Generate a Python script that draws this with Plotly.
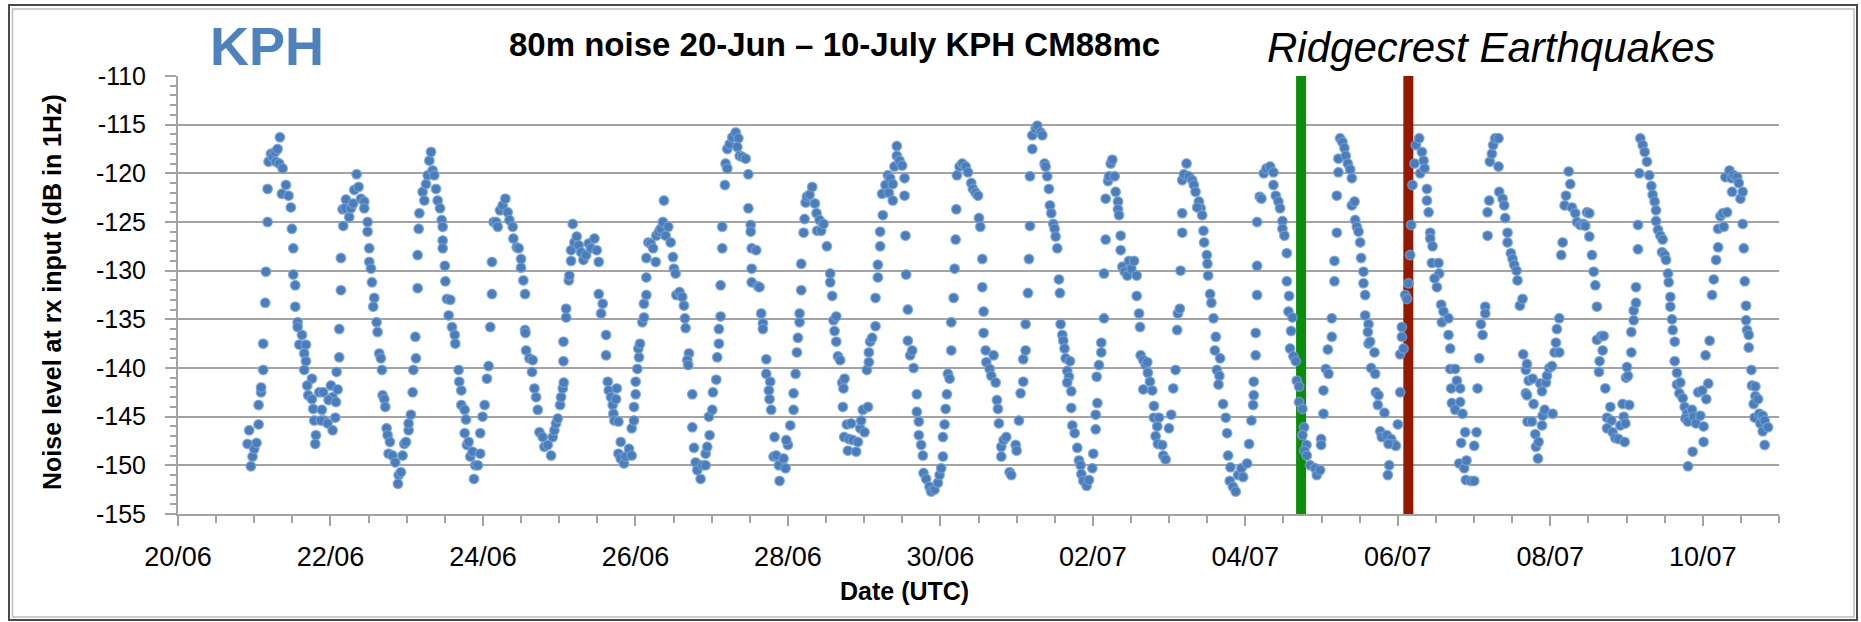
import pandas as pd
import plotly.graph_objects as go

START = pd.Timestamp("2019-06-20 00:00")

# 80 m noise readings: (days after 20-Jun 00:00 UTC, level in dB / 1 Hz)
noise_21_24jun = [
    (0.956, -150.1), (0.934, -146.4), (0.912, -147.8), (0.978, -149.1), (1.000, -148.3), (1.030, -147.7),
    (1.057, -145.8), (1.057, -143.8), (1.090, -142.5), (1.090, -142.0), (1.118, -140.2), (1.118, -137.5),
    (1.144, -133.3), (1.153, -130.1), (1.175, -125.0), (1.175, -121.6), (1.188, -118.8), (1.219, -118.0),
    (1.240, -118.3), (1.275, -117.8), (1.306, -117.5), (1.337, -116.3), (1.284, -118.8), (1.328, -119.0),
    (1.372, -119.5), (1.363, -122.1), (1.416, -121.2), (1.450, -122.3), (1.480, -123.5), (1.494, -125.7),
    (1.512, -127.7), (1.512, -130.4), (1.538, -131.5), (1.538, -133.7), (1.569, -135.3), (1.569, -135.8),
    (1.626, -136.6), (1.591, -137.6), (1.678, -137.6), (1.656, -138.5), (1.678, -139.3), (1.656, -140.2),
    (1.757, -141.1), (1.695, -141.8), (1.708, -142.8), (1.757, -143.2), (1.774, -144.2), (1.787, -145.4),
    (1.809, -146.9), (1.800, -147.8), (1.853, -142.5), (1.905, -142.5), (1.888, -144.3), (1.918, -145.4),
    (1.875, -145.4), (1.962, -145.7), (2.006, -141.8), (2.028, -143.0), (1.975, -143.3), (2.028, -146.4),
    (2.063, -145.1), (2.072, -143.5), (2.094, -142.2), (2.080, -140.4), (2.115, -138.9), (2.115, -136.0),
    (2.137, -132.0), (2.137, -128.7), (2.168, -125.4), (2.159, -123.7), (2.203, -122.7), (2.194, -123.6),
    (2.246, -124.5), (2.268, -123.6), (2.299, -123.1), (2.312, -121.7), (2.343, -120.1), (2.369, -121.4),
    (2.400, -122.6), (2.443, -122.9), (2.443, -123.6), (2.487, -125.0), (2.487, -126.0), (2.509, -127.7),
    (2.509, -129.1), (2.531, -129.8), (2.544, -131.2), (2.574, -132.8), (2.561, -133.7), (2.605, -135.3),
    (2.618, -136.3), (2.640, -138.5), (2.661, -139.0), (2.675, -140.2), (2.684, -142.8), (2.706, -143.2),
    (2.719, -144.0), (2.736, -146.2), (2.749, -146.9), (2.780, -147.6), (2.762, -148.8), (2.814, -149.0),
    (2.850, -149.7), (2.894, -151.0), (2.885, -151.9), (2.924, -150.7), (2.946, -149.0), (2.968, -147.8),
    (2.990, -147.6), (3.025, -146.4), (3.025, -145.7), (3.055, -144.8), (3.078, -142.5), (3.087, -140.2),
    (3.121, -139.0), (3.113, -136.8), (3.143, -131.8), (3.143, -128.4), (3.157, -125.7), (3.166, -124.1),
    (3.209, -121.9), (3.231, -122.8), (3.253, -121.1), (3.275, -120.2), (3.297, -118.7), (3.319, -117.8),
    (3.340, -119.7), (3.362, -120.2), (3.384, -121.6), (3.406, -122.8), (3.437, -123.6), (3.459, -124.8),
    (3.472, -125.5), (3.472, -126.9), (3.472, -127.7), (3.500, -129.5), (3.507, -131.1), (3.528, -132.9),
    (3.572, -133.0), (3.550, -134.6), (3.594, -135.8), (3.629, -136.6), (3.637, -137.5), (3.681, -140.2),
    (3.689, -141.4), (3.716, -142.3), (3.716, -143.8), (3.760, -144.3), (3.777, -145.3), (3.760, -146.7),
    (3.790, -147.9), (3.812, -147.6), (3.834, -149.1), (3.864, -148.6), (3.899, -150.0), (3.882, -151.4),
    (3.934, -150.0), (3.964, -148.8), (3.964, -146.7), (3.995, -145.0), (4.022, -143.8), (4.052, -141.1),
    (4.074, -139.8), (4.096, -135.8), (4.118, -132.4), (4.118, -129.1), (4.140, -125.0),
]

noise_24_28jun = [
    (4.172, -125.0), (4.194, -125.5), (4.224, -123.8), (4.259, -123.3), (4.294, -122.6), (4.325, -124.0),
    (4.347, -124.8), (4.390, -125.5), (4.399, -126.7), (4.443, -127.6), (4.469, -127.7), (4.500, -128.8),
    (4.500, -129.7), (4.530, -131.0), (4.552, -132.4), (4.552, -136.1), (4.557, -136.4), (4.566, -138.2),
    (4.609, -139.0), (4.653, -139.2), (4.644, -140.4), (4.675, -142.1), (4.697, -143.0), (4.719, -144.3),
    (4.741, -146.6), (4.784, -147.1), (4.806, -148.1), (4.850, -147.9), (4.894, -149.0), (4.915, -147.1),
    (4.937, -146.4), (4.959, -145.7), (4.981, -145.2), (5.012, -143.8), (5.025, -143.0), (5.047, -142.1),
    (5.060, -141.5), (5.056, -139.3), (5.056, -137.3), (5.091, -134.8), (5.091, -133.9), (5.126, -131.0),
    (5.134, -130.5), (5.156, -129.0), (5.156, -127.9), (5.178, -125.2), (5.200, -127.1), (5.230, -126.5),
    (5.257, -127.4), (5.287, -128.1), (5.318, -128.9), (5.353, -128.4), (5.388, -127.2), (5.418, -127.7),
    (5.462, -126.7), (5.493, -127.9), (5.519, -129.1), (5.519, -132.4), (5.571, -133.4), (5.550, -134.4),
    (5.615, -136.6), (5.615, -138.7), (5.637, -141.4), (5.650, -142.3), (5.680, -143.0), (5.702, -143.8),
    (5.755, -142.1), (5.746, -143.2), (5.711, -144.7), (5.724, -145.4), (5.777, -145.5), (5.807, -147.6),
    (5.777, -148.8), (5.807, -149.3), (5.850, -149.8), (5.872, -149.1), (5.916, -148.3), (5.951, -149.0),
    (5.951, -146.2), (5.981, -145.4), (5.981, -144.0), (6.003, -142.7), (6.003, -141.4), (6.025, -140.1),
    (6.047, -138.9), (6.038, -138.0), (6.060, -137.5), (6.090, -135.3), (6.112, -134.8), (6.112, -133.4),
    (6.143, -132.5), (6.143, -130.7), (6.143, -128.7), (6.169, -127.1), (6.200, -127.2), (6.231, -127.7),
    (6.266, -129.1), (6.274, -126.4), (6.309, -126.0), (6.331, -125.7), (6.361, -125.0), (6.374, -122.8),
    (6.396, -126.4), (6.431, -125.5), (6.462, -127.1), (6.492, -128.6), (6.505, -129.8), (6.527, -130.3),
    (6.536, -132.5), (6.579, -132.2), (6.614, -132.7), (6.636, -133.6), (6.649, -134.9), (6.658, -135.9),
    (6.702, -138.5), (6.680, -139.2), (6.693, -139.7), (6.746, -142.7), (6.746, -146.1), (6.768, -148.2),
    (6.790, -149.7), (6.811, -150.5), (6.855, -151.4), (6.877, -150.0), (6.921, -150.0), (6.921, -148.8),
    (6.942, -148.1), (6.973, -146.9), (6.964, -145.0), (7.008, -144.3), (7.017, -142.5), (7.060, -141.2),
    (7.073, -138.9), (7.095, -137.5), (7.095, -136.0), (7.117, -134.7), (7.117, -131.5), (7.139, -127.7),
    (7.139, -125.5), (7.174, -121.2), (7.183, -119.0), (7.205, -119.5), (7.205, -117.5), (7.236, -117.0),
    (7.271, -116.3), (7.315, -115.8), (7.350, -116.4), (7.337, -117.3), (7.367, -118.2), (7.402, -118.3),
    (7.446, -118.5), (7.481, -120.1), (7.481, -123.6), (7.512, -125.3), (7.512, -126.0), (7.525, -127.7),
    (7.525, -129.8), (7.525, -131.2),
]

noise_28jun_01jul = [
    (7.584, -127.9), (7.606, -131.6), (7.628, -131.7), (7.650, -134.4), (7.672, -135.4), (7.672, -136.0),
    (7.716, -139.1), (7.716, -140.6), (7.768, -141.4), (7.751, -142.3), (7.759, -143.2), (7.781, -144.3),
    (7.825, -147.1), (7.812, -149.1), (7.847, -149.0), (7.881, -150.0), (7.891, -151.6), (7.943, -149.3),
    (7.969, -150.3), (8.000, -147.9), (7.978, -147.4), (8.031, -145.9), (8.074, -144.3), (8.074, -142.6),
    (8.101, -140.6), (8.118, -138.4), (8.131, -136.9), (8.153, -135.3), (8.153, -134.4), (8.175, -132.0),
    (8.175, -129.3), (8.206, -126.1), (8.219, -124.7), (8.232, -123.0), (8.249, -122.4), (8.284, -122.2),
    (8.319, -121.4), (8.354, -123.1), (8.376, -124.1), (8.384, -125.9), (8.415, -124.8), (8.437, -125.9),
    (8.468, -125.2), (8.511, -127.5), (8.555, -130.3), (8.555, -131.2), (8.581, -132.6), (8.599, -135.1),
    (8.634, -134.7), (8.612, -136.2), (8.634, -137.3), (8.656, -138.8), (8.686, -139.2), (8.712, -141.5),
    (8.729, -142.1), (8.743, -141.1), (8.721, -144.0), (8.773, -145.8), (8.830, -145.7), (8.738, -147.1),
    (8.803, -147.3), (8.787, -148.5), (8.852, -147.4), (8.895, -148.6), (8.918, -147.6), (8.949, -146.2),
    (9.005, -146.6), (8.961, -145.4), (8.983, -144.3), (9.050, -144.0), (9.036, -140.2), (9.062, -139.4),
    (9.062, -138.4), (9.079, -137.3), (9.105, -136.9), (9.149, -135.7), (9.149, -132.8), (9.180, -130.7),
    (9.180, -129.4), (9.210, -127.5), (9.210, -126.0), (9.245, -124.3), (9.236, -122.1), (9.280, -121.2),
    (9.311, -120.2), (9.341, -120.5), (9.324, -122.0), (9.376, -122.8), (9.376, -121.1), (9.398, -119.3),
    (9.429, -118.2), (9.429, -117.2), (9.464, -118.7), (9.499, -119.2), (9.530, -120.5), (9.530, -122.3),
    (9.542, -126.4), (9.551, -130.4), (9.573, -134.0), (9.573, -137.2), (9.604, -138.7), (9.630, -138.2),
    (9.648, -140.0), (9.691, -142.7), (9.691, -144.5), (9.717, -145.5), (9.717, -146.9), (9.748, -147.9),
    (9.770, -149.0), (9.779, -150.8), (9.813, -151.4), (9.857, -152.2), (9.879, -152.7), (9.923, -152.5),
    (9.967, -151.8), (9.989, -151.0), (10.011, -150.3), (10.033, -149.1), (10.033, -147.1), (10.055, -145.8),
    (10.069, -144.2), (10.086, -142.7), (10.099, -140.6), (10.121, -141.1), (10.143, -138.2), (10.143, -135.3),
    (10.174, -132.8), (10.187, -129.8), (10.200, -126.8), (10.209, -123.7), (10.217, -120.2), (10.252, -119.3),
    (10.287, -119.0), (10.331, -119.3), (10.362, -119.9), (10.405, -121.0), (10.427, -121.6), (10.462, -122.0),
    (10.493, -122.3), (10.506, -124.6), (10.524, -125.5), (10.550, -128.8), (10.550, -131.7), (10.567, -134.2),
    (10.567, -136.4), (10.594, -138.2), (10.602, -139.4), (10.646, -140.1), (10.668, -140.8), (10.698, -138.7),
    (10.725, -141.5), (10.742, -143.3), (10.755, -144.2), (10.768, -145.7), (10.799, -148.1), (10.799, -149.1),
    (10.829, -147.4), (10.864, -147.1), (10.908, -150.7), (10.930, -151.0),
]

noise_01_04jul = [
    (10.987, -147.9), (11.000, -148.5), (11.031, -145.4), (11.052, -142.6), (11.087, -141.4), (11.087, -139.1),
    (11.118, -138.2), (11.118, -135.5), (11.149, -132.3), (11.162, -128.8), (11.175, -125.4), (11.175, -120.3),
    (11.206, -117.5), (11.206, -116.1), (11.249, -115.4), (11.271, -115.1), (11.315, -115.8), (11.337, -116.1),
    (11.367, -119.0), (11.380, -119.3), (11.402, -120.3), (11.424, -121.6), (11.437, -123.3), (11.455, -124.1),
    (11.481, -125.2), (11.498, -125.7), (11.512, -126.5), (11.533, -127.7), (11.555, -130.9), (11.568, -132.3),
    (11.577, -135.5), (11.599, -136.6), (11.612, -137.2), (11.629, -138.0), (11.643, -139.0), (11.700, -139.3),
    (11.664, -140.3), (11.686, -140.9), (11.664, -141.5), (11.717, -142.4), (11.717, -144.1), (11.731, -145.9),
    (11.761, -146.7), (11.796, -148.2), (11.818, -149.5), (11.840, -150.0), (11.849, -150.9), (11.875, -151.6),
    (11.919, -152.1), (11.949, -151.5), (11.993, -150.3), (12.006, -148.8), (12.037, -146.3), (12.037, -144.8),
    (12.059, -143.6), (12.050, -140.9), (12.080, -139.7), (12.111, -138.4), (12.111, -137.4), (12.146, -134.9),
    (12.146, -130.3), (12.168, -126.8), (12.168, -122.6), (12.199, -120.8), (12.212, -120.3), (12.234, -119.0),
    (12.255, -118.6), (12.286, -120.3), (12.299, -121.9), (12.330, -122.9), (12.330, -123.7), (12.343, -124.3),
    (12.365, -126.4), (12.365, -127.9), (12.387, -129.6), (12.417, -130.1), (12.452, -130.5), (12.474, -129.0),
    (12.505, -129.8), (12.540, -129.0), (12.575, -130.5), (12.575, -132.6), (12.606, -134.4), (12.619, -135.8),
    (12.627, -138.7), (12.662, -139.2), (12.692, -139.7), (12.714, -139.4), (12.662, -142.2), (12.722, -140.5),
    (12.749, -141.4), (12.779, -142.3), (12.801, -143.9), (12.801, -145.1), (12.867, -145.1), (12.845, -146.0),
    (12.823, -147.0), (12.853, -147.8), (12.910, -147.9), (12.923, -149.0), (12.954, -149.4), (12.998, -146.2),
    (13.028, -144.8), (13.054, -142.1), (13.085, -140.2), (13.106, -136.1), (13.115, -134.4), (13.141, -133.9),
    (13.150, -130.0), (13.172, -126.1), (13.172, -124.1), (13.172, -120.7), (13.194, -120.1), (13.229, -119.0),
    (13.259, -120.3), (13.303, -120.7), (13.325, -121.2), (13.347, -121.9), (13.391, -122.9), (13.415, -123.6),
    (13.369, -123.5), (13.434, -124.3), (13.451, -125.9), (13.460, -127.1), (13.495, -128.4), (13.503, -129.3),
    (13.512, -130.5), (13.538, -132.4), (13.555, -133.3), (13.582, -134.9), (13.613, -136.8), (13.600, -138.2),
    (13.669, -139.0), (13.626, -140.2), (13.660, -140.8), (13.648, -141.7), (13.708, -143.7), (13.743, -145.1),
    (13.761, -146.7), (13.774, -149.0), (13.805, -150.2), (13.796, -151.6), (13.839, -152.2), (13.874, -152.7),
    (13.905, -151.0), (13.949, -150.3), (13.971, -151.2), (14.023, -149.8), (14.049, -147.8), (14.080, -145.4),
    (14.102, -143.8), (14.110, -142.8), (14.110, -141.4), (14.136, -138.7), (14.136, -136.4), (14.154, -132.5),
    (14.154, -129.5), (14.154, -125.0), (14.189, -122.4), (14.211, -122.6), (14.242, -120.0), (14.277, -119.5),
]

noise_04_07jul = [
    (14.325, -119.3), (14.369, -119.9), (14.369, -121.2), (14.399, -122.3), (14.434, -122.9), (14.456, -123.6),
    (14.487, -124.9), (14.487, -125.7), (14.513, -126.4), (14.544, -128.2), (14.544, -131.1), (14.574, -132.6),
    (14.566, -134.2), (14.618, -134.8), (14.600, -136.2), (14.587, -138.0), (14.631, -138.8), (14.662, -139.3),
    (14.675, -141.3), (14.705, -141.9), (14.705, -143.5), (14.749, -144.2), (14.771, -146.1), (14.749, -146.9),
    (14.802, -147.9), (14.775, -148.5), (14.806, -149.0), (14.850, -150.0), (14.915, -150.3), (14.937, -151.0),
    (14.981, -150.5), (14.994, -147.3), (14.994, -147.9), (15.025, -144.7), (15.025, -142.3), (15.056, -140.1),
    (15.091, -140.6), (15.082, -138.1), (15.134, -136.8), (15.134, -134.9), (15.169, -131.1), (15.169, -129.0),
    (15.200, -126.1), (15.200, -122.3), (15.221, -119.9), (15.221, -118.5), (15.243, -116.4), (15.274, -116.8),
    (15.300, -117.4), (15.317, -118.2), (15.344, -119.0), (15.375, -119.6), (15.397, -120.5), (15.397, -123.3),
    (15.432, -122.9), (15.441, -124.8), (15.463, -125.5), (15.485, -126.0), (15.506, -127.1), (15.519, -128.7),
    (15.550, -130.1), (15.550, -131.3), (15.572, -132.5), (15.572, -134.6), (15.616, -135.5), (15.607, -136.3),
    (15.616, -137.5), (15.637, -137.3), (15.694, -138.4), (15.650, -140.0), (15.703, -140.6), (15.712, -142.5),
    (15.747, -142.8), (15.738, -143.8), (15.825, -144.6), (15.769, -146.5), (15.790, -147.1), (15.856, -146.9),
    (15.913, -147.3), (15.943, -147.8), (15.974, -148.0), (15.878, -147.8), (15.887, -150.0), (15.869, -151.0),
    (16.000, -145.8), (16.031, -142.5), (16.031, -138.6), (16.053, -136.8), (16.075, -138.0), (16.053, -135.8),
    (16.097, -132.5), (16.119, -132.9), (16.140, -131.3), (16.162, -128.4), (16.176, -125.3), (16.193, -121.2),
    (16.220, -119.0), (16.237, -117.1), (16.281, -116.4), (16.316, -117.8), (16.338, -118.7), (16.294, -120.0),
    (16.351, -119.5), (16.382, -121.6), (16.382, -122.8), (16.404, -124.0), (16.425, -126.1), (16.425, -126.7),
    (16.456, -127.5), (16.447, -129.2), (16.534, -129.2), (16.543, -130.3), (16.482, -130.8), (16.513, -131.7),
    (16.569, -133.5), (16.600, -134.2), (16.578, -135.3), (16.665, -134.9), (16.665, -136.6), (16.687, -138.0),
    (16.687, -140.1), (16.753, -140.1), (16.775, -141.3), (16.700, -142.1), (16.818, -142.1), (16.709, -143.6),
    (16.753, -144.3), (16.818, -143.5), (16.849, -144.7), (16.884, -146.6), (16.831, -147.7), (16.805, -149.8),
    (16.871, -150.3), (16.901, -149.5), (16.893, -151.5), (16.959, -151.6), (17.002, -151.6), (17.002, -148.0),
    (17.033, -146.6), (17.046, -142.1), (17.068, -139.0), (17.090, -135.5), (17.112, -136.6), (17.147, -133.7),
    (17.147, -134.4), (17.177, -126.4), (17.177, -124.0), (17.199, -122.8), (17.208, -118.8), (17.234, -118.0),
    (17.251, -117.1), (17.277, -116.4), (17.321, -116.4), (17.321, -119.3), (17.330, -121.9), (17.374, -122.6),
    (17.396, -123.3), (17.409, -124.6), (17.439, -126.1), (17.439, -127.1), (17.483, -128.2), (17.505, -128.8),
    (17.527, -129.4), (17.557, -130.0), (17.570, -131.0), (17.601, -133.6), (17.636, -132.9), (17.645, -138.6),
    (17.679, -140.2), (17.679, -142.6), (17.701, -145.5),
]

noise_07_10jul = [
    (17.694, -139.6), (17.716, -141.3), (17.694, -142.8), (17.768, -141.1), (17.781, -143.7), (17.759, -145.5),
    (17.803, -146.8), (17.812, -148.1), (17.838, -149.3), (17.847, -147.6), (17.869, -141.6), (17.891, -142.4),
    (17.891, -145.9), (17.900, -144.9), (17.926, -144.3), (17.943, -141.5), (17.956, -140.8), (17.987, -140.0),
    (18.022, -139.8), (18.031, -144.7), (18.057, -138.4), (18.074, -137.4), (18.087, -136.0), (18.118, -134.9),
    (18.118, -138.4), (18.144, -128.4), (18.162, -127.1), (18.188, -123.3), (18.206, -122.3), (18.241, -119.8),
    (18.262, -121.1), (18.284, -123.5), (18.328, -124.1), (18.350, -125.0), (18.394, -125.3), (18.437, -125.2),
    (18.481, -124.0), (18.512, -124.1), (18.459, -125.4), (18.512, -126.5), (18.547, -128.4), (18.569, -130.1),
    (18.591, -131.5), (18.612, -133.7), (18.612, -137.1), (18.669, -136.7), (18.700, -136.7), (18.687, -138.2),
    (18.647, -139.3), (18.639, -140.4), (18.722, -142.1), (18.788, -144.0), (18.744, -145.1), (18.801, -145.4),
    (18.744, -146.2), (18.818, -146.6), (18.853, -147.2), (18.897, -147.3), (18.976, -147.6), (18.919, -145.9),
    (18.963, -145.0), (18.985, -145.7), (18.949, -143.7), (19.036, -143.8), (18.993, -141.0), (19.019, -140.8),
    (19.006, -139.9), (19.063, -138.4), (19.063, -136.3), (19.094, -135.1), (19.094, -134.1), (19.124, -133.3),
    (19.124, -131.7), (19.150, -127.8), (19.150, -125.3), (19.168, -120.0), (19.181, -116.4), (19.212, -117.1),
    (19.238, -117.8), (19.268, -118.8), (19.299, -120.2), (19.326, -121.3), (19.343, -122.2), (19.369, -122.9),
    (19.387, -123.8), (19.387, -124.9), (19.413, -125.8), (19.444, -126.4), (19.474, -126.8), (19.466, -128.1),
    (19.500, -128.4), (19.518, -128.9), (19.544, -130.3), (19.553, -131.2), (19.575, -132.7), (19.575, -133.7),
    (19.597, -135.0), (19.606, -136.1), (19.632, -137.3), (19.632, -139.3), (19.662, -140.5), (19.662, -141.7),
    (19.706, -141.5), (19.693, -142.6), (19.737, -143.1), (19.763, -144.0), (19.793, -144.7), (19.772, -145.2),
    (19.806, -145.5), (19.859, -144.3), (19.881, -145.0), (19.912, -145.7), (19.968, -144.9), (20.011, -146.0),
    (19.806, -150.1), (19.867, -148.6), (20.011, -147.6), (19.940, -142.5), (19.994, -142.3), (20.046, -143.2),
    (20.072, -141.6), (20.037, -138.7), (20.090, -137.2), (20.122, -132.5), (20.144, -130.9), (20.175, -128.9),
    (20.201, -127.6), (20.201, -125.7), (20.232, -124.4), (20.263, -124.1), (20.276, -125.5), (20.319, -124.0),
    (20.297, -120.4), (20.350, -119.7), (20.376, -120.5), (20.407, -120.2), (20.451, -120.4), (20.472, -121.0),
    (20.385, -121.9), (20.494, -122.6), (20.524, -121.9), (20.524, -125.2), (20.538, -127.7), (20.551, -131.1),
    (20.568, -133.6), (20.568, -135.1), (20.581, -136.1), (20.603, -136.6), (20.603, -137.9), (20.638, -140.2),
    (20.646, -141.8), (20.690, -141.9), (20.690, -142.9), (20.668, -143.7), (20.725, -143.2), (20.681, -145.1),
    (20.742, -144.7), (20.786, -144.9), (20.755, -145.7), (20.812, -145.4), (20.786, -146.5), (20.856, -146.1),
    (20.812, -147.9),
]

# Ridgecrest earthquakes (UTC): M6.4 foreshock and M7.1 mainshock
quake_m64 = "2019-07-04 17:33"
quake_m71 = "2019-07-06 03:19"

y_tick_vals = [-155, -150, -145, -140, -135, -130, -125, -120, -115, -110]
y_tick_text = ["-155", "-150", "-145", "-140", "-135", "-130", "-125", "-120", "-115", "-110"]

# ---------------------------------------------------------------------------
segments = [noise_21_24jun, noise_24_28jun, noise_28jun_01jul,
            noise_01_04jul, noise_04_07jul, noise_07_10jul]
days = [d for seg in segments for d, _ in seg]
level = [v for seg in segments for _, v in seg]
when = START + pd.to_timedelta(days, unit="D")

W, H = 1861, 622
ML, MR, MT, MB = 178, 82, 76, 108
PW, PH = W - ML - MR, H - MT - MB

def px(x):
    return (x - ML) / PW

def py(y):
    return (H - MB - y) / PH

FONT = "Liberation Sans, Arial, sans-serif"
GRID = "#a3a3a3"
BLUE = "#4A7EBB"

fig = go.Figure()

for t_evt, col in ((quake_m64, "#0b8c0b"), (quake_m71, "#951800")):
    fig.add_trace(go.Scatter(
        x=[t_evt, t_evt], y=[-155, -110], mode="lines",
        line=dict(color=col, width=10), hoverinfo="skip", showlegend=False,
    ))

fig.add_trace(go.Scatter(
    x=when, y=level, mode="markers",
    marker=dict(size=9.5, color=BLUE, line=dict(color="rgba(120,160,212,0.75)", width=1.5)),
    showlegend=False,
))

fig.update_xaxes(
    type="date",
    range=["2019-06-20", "2019-07-11"],
    tick0="2019-06-20", dtick=2 * 86400000, tickformat="%d/%m",
    ticks="outside", ticklen=10, tickwidth=2, tickcolor=GRID,
    minor=dict(tick0="2019-06-20", dtick=43200000, ticks="outside",
               ticklen=7, tickwidth=2, tickcolor=GRID, showgrid=False),
    showline=True, linecolor=GRID, linewidth=2,
    showgrid=False, zeroline=False,
    tickfont=dict(family=FONT, size=27, color="black"),
    ticklabelstandoff=8,
)
fig.update_yaxes(
    range=[-155, -110],
    tickmode="array", tickvals=y_tick_vals, ticktext=y_tick_text,
    ticks="outside", ticklen=11, tickwidth=2, tickcolor=GRID,
    minor=dict(tickmode="linear", tick0=-155, dtick=1, ticks="outside",
               ticklen=6, tickwidth=2, tickcolor=GRID, showgrid=False),
    showline=True, linecolor=GRID, linewidth=2,
    showgrid=True, gridcolor=GRID, gridwidth=2, zeroline=False,
    tickfont=dict(family=FONT, size=25, color="black"),
    ticklabelstandoff=14,
)

annotations = [
    dict(text="KPH", x=px(267), y=py(46), font=dict(family=FONT, size=54, color="#4F81BD", weight="bold")),
    dict(text="80m noise 20-Jun \u2013 10-July KPH CM88mc", x=px(834), y=py(44),
         font=dict(family=FONT, size=33, color="black", weight="bold")),
    dict(text="Ridgecrest Earthquakes", x=px(1491), y=py(47),
         font=dict(family=FONT, size=42, color="black", style="italic")),
    dict(text="Noise level at rx input (dB in 1Hz)", x=px(52), y=py(292), textangle=-90,
         font=dict(family=FONT, size=25, color="black", weight="bold")),
    dict(text="Date (UTC)", x=px(904), y=py(591),
         font=dict(family=FONT, size=25, color="black", weight="bold")),
]
for a in annotations:
    fig.add_annotation(xref="paper", yref="paper", showarrow=False,
                       xanchor="center", yanchor="middle", **a)

# chart frame
fig.add_shape(type="rect", xref="paper", yref="paper",
              x0=px(9), x1=px(1857), y0=py(620), y1=py(5),
              line=dict(color="#4a4a4a", width=2), layer="below")
fig.add_shape(type="rect", xref="paper", yref="paper",
              x0=px(12.5), x1=px(1854), y0=py(617), y1=py(9),
              line=dict(color="#bdbdbd", width=1.5), layer="below")

fig.update_layout(
    width=W, height=H,
    margin=dict(l=ML, r=MR, t=MT, b=MB, pad=0),
    paper_bgcolor="white", plot_bgcolor="white",
    showlegend=False,
)

fig.write_html("out.html")
